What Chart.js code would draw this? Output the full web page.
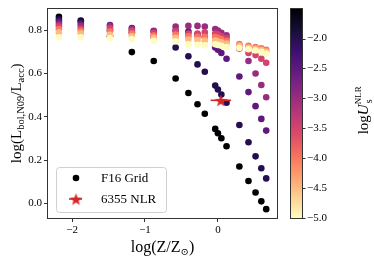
<!DOCTYPE html>
<html><head><meta charset="utf-8">
<script src="https://cdn.jsdelivr.net/npm/chart.js@4.4.0/dist/chart.umd.min.js"></script>
<style>html,body{margin:0;padding:0;background:#fff}#c{display:block}</style>
</head><body>
<canvas id="c" width="374" height="262"></canvas>
<script>
// ---- data ----
const logZ = [-2.18,-1.88,-1.48,-1.18,-0.88,-0.58,-0.405,-0.28,-0.18,-0.037,0.0,0.047,0.118,0.294,0.419,0.516,0.595,0.662];
const logULevels = [-5.0,-4.5,-4.0,-3.5,-3.0,-2.5,-2.0,-1.5];
const yU50 = [0.767,0.767,0.764,0.759,0.751,0.749,0.735,0.733,0.730,0.735,0.732,0.728,0.722,0.718,0.712,0.706,0.700,0.692];
const yU45 = [0.790,0.786,0.779,0.772,0.765,0.765,0.757,0.755,0.752,0.752,0.748,0.744,0.738,0.728,0.720,0.714,0.708,0.702];
const yU40 = [0.805,0.797,0.794,0.785,0.775,0.780,0.772,0.770,0.770,0.768,0.764,0.758,0.750,0.736,0.728,0.722,0.716,0.710];
const yU35 = [0.818,0.808,0.809,0.797,0.787,0.795,0.785,0.785,0.790,0.784,0.780,0.772,0.764,0.730,0.695,0.685,0.668,0.650];
const yU30 = [0.829,0.820,0.820,0.805,0.797,0.817,0.820,0.820,0.817,0.806,0.798,0.788,0.776,0.715,0.658,0.600,0.547,0.490];
const yU25 = [0.840,0.830,0.824,0.810,0.795,0.800,0.794,0.780,0.770,0.720,0.710,0.695,0.668,0.586,0.514,0.449,0.390,0.336];
const yU20 = [0.851,0.840,0.800,0.790,0.770,0.720,0.680,0.642,0.608,0.544,0.526,0.503,0.465,0.362,0.282,0.217,0.162,0.115];
const yU15 = [0.862,0.845,0.772,0.699,0.658,0.577,0.510,0.458,0.414,0.344,0.324,0.301,0.264,0.170,0.103,0.050,0.009,-0.027];
const seriesY = [yU50,yU45,yU40,yU35,yU30,yU25,yU20,yU15];
const nlrX = [0.04], nlrY = [0.476], nlrXerr = [0.14];
const xTicks = [-2,-1,0];
const yTicks = [0.0,0.2,0.4,0.6,0.8];
const cbarTicks = [-2.0,-2.5,-3.0,-3.5,-4.0,-4.5,-5.0];
const cbarMin = -5.0, cbarMax = -1.5;

// ---- magma colormap ----
const magmaStops = ['#000004','#140e36','#3b0f70','#641a80','#8c2981','#b73779','#de4968','#f7705c','#fe9f6d','#fecf92','#fcfdbf'];
function hex2rgb(h){return [parseInt(h.substr(1,2),16),parseInt(h.substr(3,2),16),parseInt(h.substr(5,2),16)];}
function magma(t){
  t=Math.max(0,Math.min(1,t));const f=t*10;const i=Math.min(9,Math.floor(f));const r=f-i;
  const a=hex2rgb(magmaStops[i]),b=hex2rgb(magmaStops[i+1]);
  return 'rgb('+a.map((v,k)=>Math.round(v+(b[k]-v)*r)).join(',')+')';
}
function colorFor(u){return magma(1-(u-cbarMin)/(cbarMax-cbarMin));}

// ---- star marker ----
function starCanvas(size,color){
  const c=document.createElement('canvas');c.width=size;c.height=size;
  const g=c.getContext('2d');const cx=size/2,cy=size/2+0.8,R=size/2,r=R*0.42;
  g.beginPath();
  for(let k=0;k<10;k++){const ang=-Math.PI/2+k*Math.PI/5;const rr=k%2?r:R;g.lineTo(cx+rr*Math.cos(ang),cy+rr*Math.sin(ang));}
  g.closePath();g.fillStyle=color;g.fill();return c;
}
const RED='#d62728';
const star = starCanvas(13,RED);
const starSmall = starCanvas(13,RED);

const datasets=[{label:'6355 NLR',data:nlrX.map((x,i)=>({x:x,y:nlrY[i]})),pointStyle:star,pointRadius:6}];
logULevels.forEach((u,k)=>{
  datasets.push({label:'U'+u,data:logZ.map((x,i)=>({x:x,y:seriesY[k][i]})),
    backgroundColor:colorFor(u),borderColor:colorFor(u),pointRadius:3.3,borderWidth:0});
});

const SERIF='"Liberation Serif", "DejaVu Serif", serif';
function drawRich(ctx,parts,x,y,align){
  let w=0;parts.forEach(p=>{ctx.font=(p.it?'italic ':'')+p.s+'px '+SERIF;p.w=ctx.measureText(p.t).width;if(!p.stack)w+=p.w;});
  let cx=align==='center'?x-w/2:x;
  ctx.textBaseline='alphabetic';ctx.textAlign='left';
  parts.forEach(p=>{ctx.font=(p.it?'italic ':'')+p.s+'px '+SERIF;ctx.fillText(p.t,cx+(p.dx||0),y+(p.dy||0));if(!p.stack)cx+=p.w;});
}

const deco={id:'deco',
  beforeDatasetDraw(chart,args){
    if(args.index!==0)return;
    const ctx=chart.ctx,xs=chart.scales.x,ys=chart.scales.y;
    ctx.save();ctx.strokeStyle=RED;ctx.lineWidth=1.6;
    nlrX.forEach((x,i)=>{const py=ys.getPixelForValue(nlrY[i]);ctx.beginPath();
      ctx.moveTo(xs.getPixelForValue(x-nlrXerr[i]),py);ctx.lineTo(xs.getPixelForValue(x+nlrXerr[i]),py);ctx.stroke();});
    ctx.restore();
  },
  afterDraw(chart){
    const ctx=chart.ctx,a=chart.chartArea;
    ctx.save();
    // frame
    ctx.strokeStyle='#333';ctx.lineWidth=1;
    ctx.strokeRect(Math.round(a.left)-0.5,Math.round(a.top)-0.5,Math.round(a.right-a.left)+1,Math.round(a.bottom-a.top)+1);
    ctx.fillStyle='#000';
    // x title
    drawRich(ctx,[{t:'log(Z/Z',s:16},{t:'\u2299',s:10,dy:3},{t:')',s:16}],(a.left+a.right)/2,252,'center');
    // y title
    ctx.save();ctx.translate(21,(a.top+a.bottom)/2);ctx.rotate(-Math.PI/2);
    drawRich(ctx,[{t:'log(L',s:15},{t:'bol,N09',s:10.5,dy:3},{t:'/L',s:15},{t:'acc',s:10.5,dy:3},{t:')',s:15}],0,0,'center');
    ctx.restore();
    // legend
    const lx=56,ly=167,lw=110,lh=45;
    ctx.beginPath();ctx.roundRect(lx+0.5,ly+0.5,lw,lh,3);ctx.fillStyle='rgba(255,255,255,0.8)';ctx.fill();
    ctx.strokeStyle='#d0d0d0';ctx.lineWidth=1;ctx.stroke();
    ctx.fillStyle='#000';ctx.beginPath();ctx.arc(76,178,3.3,0,Math.PI*2);ctx.fill();
    ctx.strokeStyle=RED;ctx.lineWidth=1.6;ctx.beginPath();ctx.moveTo(69,199);ctx.lineTo(82,199);ctx.stroke();
    ctx.drawImage(starSmall,76-6.5,199-6.5);
    ctx.fillStyle='#000';ctx.font='13px '+SERIF;ctx.textBaseline='middle';ctx.textAlign='left';
    ctx.fillText('F16 Grid',101,178.5);ctx.fillText('6355 NLR',101,199.5);
    // colorbar
    const cx0=291,cx1=302,cy0=a.top,cy1=a.bottom;
    const gr=ctx.createLinearGradient(0,cy0,0,cy1);
    for(let k=0;k<=20;k++){gr.addColorStop(k/20,magma(k/20));}
    ctx.fillStyle=gr;ctx.fillRect(cx0,cy0,cx1-cx0,cy1-cy0);
    ctx.strokeStyle='#333';ctx.lineWidth=1;ctx.strokeRect(cx0-0.5,Math.round(cy0)-0.5,cx1-cx0+1,Math.round(cy1-cy0)+1);
    ctx.fillStyle='#000';ctx.font='11px '+SERIF;ctx.textBaseline='middle';ctx.textAlign='left';
    cbarTicks.forEach(v=>{const py=cy1-(v-cbarMin)/(cbarMax-cbarMin)*(cy1-cy0);
      ctx.beginPath();ctx.moveTo(cx1,Math.round(py)+0.5);ctx.lineTo(cx1+3.5,Math.round(py)+0.5);ctx.stroke();
      ctx.fillText('\u2212'+Math.abs(v).toFixed(1),cx1+5,py);});
    // colorbar label
    ctx.save();ctx.translate(368,(cy0+cy1)/2-3);ctx.rotate(-Math.PI/2);
    drawRich(ctx,[{t:'log',s:15},{t:'U',s:15,it:true},{t:'s',s:10,dy:4,stack:true,dx:1},{t:'NLR',s:9,dy:-7}],0,0,'center');
    ctx.restore();
    ctx.restore();
  }
};

new Chart(document.getElementById('c'),{
  type:'scatter',
  data:{datasets:datasets},
  options:{
    responsive:false,animation:false,devicePixelRatio:1,
    layout:{padding:{left:0,right:97,top:5,bottom:0}},
    plugins:{legend:{display:false},tooltip:{enabled:false}},
    elements:{point:{borderWidth:0}},
    scales:{
      x:{type:'linear',min:-2.33,max:0.81,
        afterBuildTicks:s=>{s.ticks=xTicks.map(v=>({value:v}));},
        afterFit:s=>{s.height=44;},
        grid:{display:true,drawOnChartArea:false,drawTicks:true,tickLength:4,color:'#333'},
        border:{display:false},
        ticks:{padding:2,color:'#000',font:{family:SERIF,size:11},maxRotation:0,
          callback:v=>(v<0?'\u2212':'')+Math.abs(v)}},
      y:{type:'linear',min:-0.068,max:0.9,
        afterBuildTicks:s=>{s.ticks=yTicks.map(v=>({value:v}));},
        afterFit:s=>{s.width=48;},
        grid:{display:true,drawOnChartArea:false,drawTicks:true,tickLength:4,color:'#333'},
        border:{display:false},
        ticks:{padding:2,color:'#000',font:{family:SERIF,size:11},
          callback:v=>v.toFixed(1)}}
    }
  },
  plugins:[deco]
});
</script>
</body></html>
